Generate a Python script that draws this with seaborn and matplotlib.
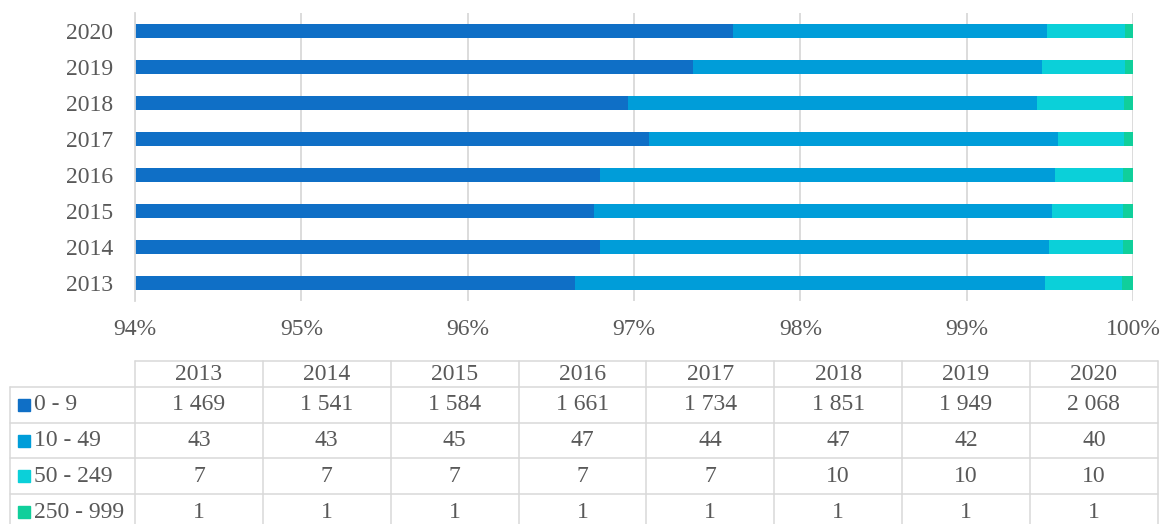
import numpy as np
import pandas as pd
import matplotlib
matplotlib.use('Agg')
import matplotlib.pyplot as plt
from matplotlib.patches import Rectangle
import seaborn as sns

# --- Datos ---
YEARS = ['2013', '2014', '2015', '2016', '2017', '2018', '2019', '2020']
CLASSES = ['0 - 9', '10 - 49', '50 - 249', '250 - 999']
SIZE_0_9 = [1469, 1541, 1584, 1661, 1734, 1851, 1949, 2068]
SIZE_10_49 = [43, 43, 45, 47, 44, 47, 42, 40]
SIZE_50_249 = [7, 7, 7, 7, 7, 10, 10, 10]
SIZE_250_999 = [1, 1, 1, 1, 1, 1, 1, 1]
X_TICKS = [94, 95, 96, 97, 98, 99, 100]

COLORS = ['#0F6FC6', '#009DD9', '#0BD0D9', '#10CF9B']
GRID = '#D9D9D9'
TEXT = '#595959'
W, H = 1161, 524

sns.set_style('white')
plt.rcParams['font.family'] = ['Liberation Serif', 'DejaVu Serif']

counts = np.array([SIZE_0_9, SIZE_10_49, SIZE_50_249, SIZE_250_999], dtype=float)
shares = counts / counts.sum(axis=0) * 100
cum = np.cumsum(shares, axis=0)

df = pd.DataFrame({'year': YEARS})
for i, c in enumerate(CLASSES):
    df[c] = cum[i]

fig = plt.figure(figsize=(W / 100, H / 100), dpi=100)

# axes del grafico (en pixeles)
left, right, top, bottom = 135, 1133, 12.7, 300.7
ax = fig.add_axes([left / W, 1 - bottom / H, (right - left) / W, (bottom - top) / H])

# barras apiladas: se dibuja el acumulado de mayor a menor
for i in range(len(CLASSES) - 1, -1, -1):
    sns.barplot(data=df, x=CLASSES[i], y='year', order=YEARS[::-1], color=COLORS[i],
                width=0.38, saturation=1, linewidth=0, ax=ax)

ax.set_xlim(94, 100)
ax.set_xticks(X_TICKS)
ax.set_xticklabels([f'{t}%' for t in X_TICKS])
ax.set_xlabel('')
ax.set_ylabel('')
ax.xaxis.grid(True, color=GRID, linewidth=1.3)
ax.set_axisbelow(True)
for s in ['top', 'right', 'bottom']:
    ax.spines[s].set_visible(False)
ax.spines['left'].set_color(GRID)
ax.spines['left'].set_linewidth(1.3)
ax.tick_params(axis='x', length=0, pad=13, labelsize=17, labelcolor=TEXT)
ax.tick_params(axis='y', length=0, pad=15.5, labelsize=17, labelcolor=TEXT)

# --- Tabla de datos ---
tab = fig.add_axes([0, 0, 1, 1])
tab.set_xlim(0, W)
tab.set_ylim(H, 0)
tab.axis('off')

col_x = [135 + 127.85 * k for k in range(len(YEARS) + 1)]
row_y = [361, 387, 423, 458, 494, 530]
lw = 1.1

# lineas horizontales
tab.plot([col_x[0], col_x[-1]], [row_y[0]] * 2, color=GRID, lw=lw)
for y in row_y[1:]:
    tab.plot([10, col_x[-1]], [y, y], color=GRID, lw=lw)
# lineas verticales
tab.plot([10, 10], [row_y[1], row_y[-1]], color=GRID, lw=lw)
for x in col_x:
    tab.plot([x, x], [row_y[0], row_y[-1]], color=GRID, lw=lw)

# encabezado
for j, yr in enumerate(YEARS):
    tab.text((col_x[j] + col_x[j + 1]) / 2, (row_y[0] + row_y[1]) / 2, yr,
             ha='center', va='center', fontsize=17, color=TEXT)

# filas
for i, c in enumerate(CLASSES):
    yc = (row_y[i + 1] + row_y[i + 2]) / 2
    tab.add_patch(Rectangle((18, yc - 6), 12, 12, color=COLORS[i]))
    tab.text(34, yc, c, ha='left', va='center', fontsize=17, color=TEXT)
    for j in range(len(YEARS)):
        v = int(counts[i, j])
        tab.text((col_x[j] + col_x[j + 1]) / 2, yc, f'{v:,}'.replace(',', ' '),
                 ha='center', va='center', fontsize=17, color=TEXT)

fig.savefig('out.png', dpi=100)
